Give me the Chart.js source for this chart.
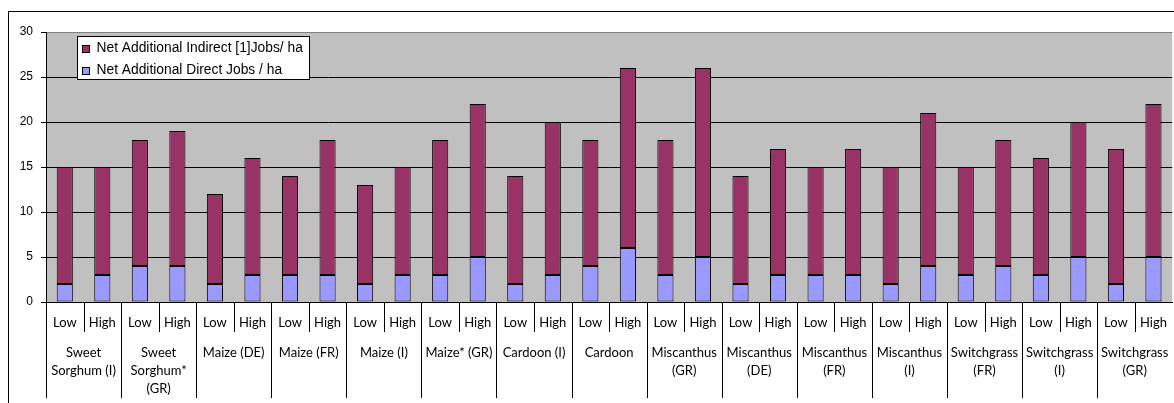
<!DOCTYPE html>
<html>
<head>
<meta charset="utf-8">
<script src="https://cdn.jsdelivr.net/npm/chart.js@4/dist/chart.umd.min.js"></script>
<style>
  html, body { margin: 0; padding: 0; background: #fff; overflow: hidden; }
  #wrap { width: 1180px; height: 403px; position: relative; }
</style>
</head>
<body>
<div id="wrap"><canvas id="c" width="1180" height="403"></canvas></div>
<script>
// Crops / regions, each shown with a Low and a High scenario
const groupNames = [
  ['Sweet', 'Sorghum (I)'],
  ['Sweet', 'Sorghum*', '(GR)'],
  ['Maize (DE)'],
  ['Maize (FR)'],
  ['Maize (I)'],
  ['Maize* (GR)'],
  ['Cardoon (I)'],
  ['Cardoon'],
  ['Miscanthus', '(GR)'],
  ['Miscanthus', '(DE)'],
  ['Miscanthus', '(FR)'],
  ['Miscanthus', '(I)'],
  ['Switchgrass', '(FR)'],
  ['Switchgrass', '(I)'],
  ['Switchgrass', '(GR)']
];
const scenarioLabels = [
  'Low', 'High', 'Low', 'High', 'Low', 'High', 'Low', 'High', 'Low', 'High',
  'Low', 'High', 'Low', 'High', 'Low', 'High', 'Low', 'High', 'Low', 'High',
  'Low', 'High', 'Low', 'High', 'Low', 'High', 'Low', 'High', 'Low', 'High'
];
const directJobs = [
  2, 3, 4, 4, 2, 3, 3, 3, 2, 3,
  3, 5, 2, 3, 4, 6, 3, 5, 2, 3,
  3, 3, 2, 4, 3, 4, 3, 5, 2, 5
];
const indirectJobs = [
  13, 12, 14, 15, 10, 13, 11, 15, 11, 12,
  15, 17, 12, 17, 14, 20, 15, 21, 12, 14,
  12, 14, 13, 17, 12, 14, 13, 15, 15, 17
];
const yTicks = [0, 5, 10, 15, 20, 25, 30];

const seriesIndirect = 'Net Additional Indirect [1]Jobs/ ha';
const seriesDirect = 'Net Additional Direct Jobs / ha';

const labelFont = 'Lato, "Open Sans", sans-serif';
const axisFont = '"Liberation Sans", Arial, sans-serif';

// Background, outer frame, category table lines, group names and the legend
const decorations = {
  id: 'decorations',
  beforeDraw(chart) {
    const { ctx, chartArea: a } = chart;
    ctx.save();
    ctx.fillStyle = '#fff';
    ctx.fillRect(0, 0, chart.width, chart.height);
    ctx.strokeStyle = '#000';
    ctx.lineWidth = 1;
    ctx.strokeRect(8.5, 11.5, chart.width + 40, chart.height + 40);
    ctx.fillStyle = '#C0C0C0';
    ctx.fillRect(a.left, a.top, a.right - a.left, a.bottom - a.top);
    ctx.restore();
  },
  afterDraw(chart) {
    const { ctx, chartArea: a } = chart;
    const xs = chart.scales.x;
    const n = scenarioLabels.length;
    const cw = (a.right - a.left) / n;
    ctx.save();
    ctx.strokeStyle = '#000';
    ctx.lineWidth = 1;
    // separators: short ones between Low / High, long ones between groups
    for (let i = 0; i < n; i++) {
      const bx = Math.round(xs.getPixelForValue(i) - cw / 2) + 0.5;
      const long = i % 2 === 0;
      ctx.beginPath();
      ctx.moveTo(bx, a.bottom);
      ctx.lineTo(bx, long ? 398 : 332);
      ctx.stroke();
    }
    // group names
    ctx.fillStyle = '#000';
    ctx.font = '13px ' + labelFont;
    ctx.textAlign = 'center';
    ctx.textBaseline = 'middle';
    groupNames.forEach((lines, g) => {
      const cx = (xs.getPixelForValue(2 * g) + xs.getPixelForValue(2 * g + 1)) / 2;
      lines.forEach((t, k) => ctx.fillText(t, cx, 353 + k * 18));
    });
    // legend box
    ctx.fillStyle = '#fff';
    ctx.fillRect(77.5, 36.5, 232, 43);
    ctx.strokeRect(77.5, 36.5, 232, 43);
    const items = [
      { text: seriesIndirect, color: chart.data.datasets[1].backgroundColor, y: 48.5 },
      { text: seriesDirect, color: chart.data.datasets[0].backgroundColor, y: 70.5 }
    ];
    ctx.font = '13.8px ' + axisFont;
    ctx.textAlign = 'left';
    items.forEach(it => {
      const top = Math.round(it.y - 4) + 0.5;
      ctx.fillStyle = it.color;
      ctx.fillRect(82.5, top, 7, 7);
      ctx.strokeRect(82.5, top, 7, 7);
      ctx.fillStyle = '#000';
      ctx.fillText(it.text, 96.5, it.y);
    });
    ctx.restore();
  }
};

new Chart(document.getElementById('c'), {
  type: 'bar',
  data: {
    labels: scenarioLabels,
    datasets: [
      {
        label: seriesDirect,
        data: directJobs,
        backgroundColor: '#9999FF',
        borderColor: '#000',
        borderWidth: 1,
        borderSkipped: false,
        barPercentage: 0.43,
        categoryPercentage: 1
      },
      {
        label: seriesIndirect,
        data: indirectJobs,
        backgroundColor: '#993366',
        borderColor: '#000',
        borderWidth: 1,
        borderSkipped: false,
        barPercentage: 0.43,
        categoryPercentage: 1
      }
    ]
  },
  options: {
    responsive: false,
    animation: false,
    layout: { padding: { top: 32, right: 3, left: 0, bottom: 0 } },
    plugins: { legend: { display: false }, tooltip: { enabled: false } },
    scales: {
      x: {
        stacked: true,
        grid: { display: false, drawTicks: false },
        border: { display: true, color: '#000', width: 1 },
        ticks: {
          font: { family: labelFont, size: 13 },
          color: '#000',
          padding: 13,
          maxRotation: 0,
          autoSkip: false
        },
        afterFit(s) { s.height = 101; }
      },
      y: {
        stacked: true,
        min: yTicks[0],
        max: yTicks[yTicks.length - 1],
        afterBuildTicks(s) { s.ticks = yTicks.map(v => ({ value: v })); },
        ticks: {
          font: { family: axisFont, size: 12 },
          color: '#000',
          padding: 8
        },
        grid: {
          color: c => (c.tick && c.tick.value === 30 ? '#808080' : '#000'),
          tickColor: '#000',
          tickLength: 5,
          lineWidth: 1
        },
        border: { display: true, color: '#000', width: 1 },
        afterFit(s) { s.width = 46; }
      }
    }
  },
  plugins: [decorations]
});
</script>
</body>
</html>
